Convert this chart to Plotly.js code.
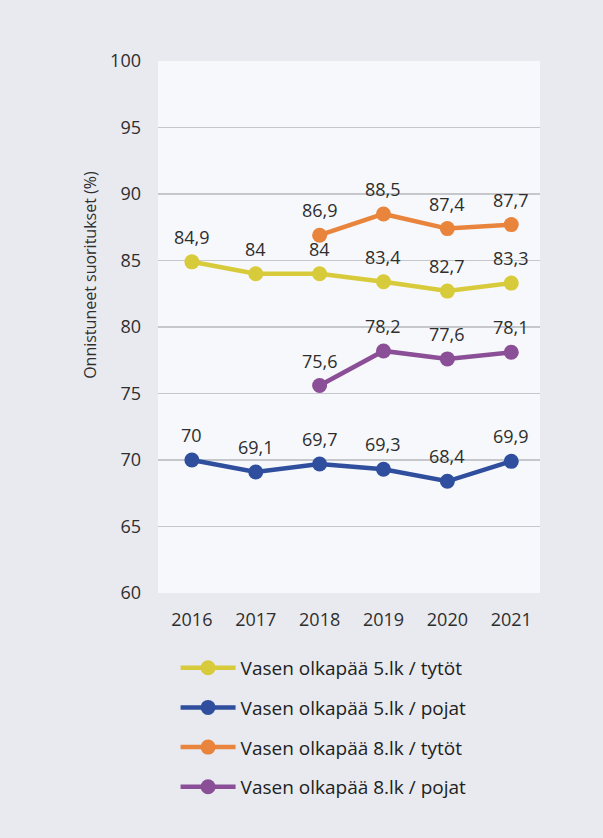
<!DOCTYPE html>
<html>
<head>
<meta charset="utf-8">
<script src="https://cdn.plot.ly/plotly-3.0.1.min.js"></script>
<style>
html,body{margin:0;padding:0;background:#e8eaf0;}
#chart{width:603px;height:838px;}
</style>
</head>
<body>
<div id="chart"></div>
<script>
const years = [2016, 2017, 2018, 2019, 2020, 2021];
const girls5 = [84.9, 84, 84, 83.4, 82.7, 83.3];
const boys5 = [70, 69.1, 69.7, 69.3, 68.4, 69.9];
const girls8 = [null, null, 86.9, 88.5, 87.4, 87.7];
const boys8 = [null, null, 75.6, 78.2, 77.6, 78.1];
const names = [
  "Vasen olkapää 5.lk / tytöt",
  "Vasen olkapää 5.lk / pojat",
  "Vasen olkapää 8.lk / tytöt",
  "Vasen olkapää 8.lk / pojat"
];
const colors = ["#d8cb3b", "#2f4f9e", "#e8843c", "#8a4f96"];
const series = [girls5, boys5, girls8, boys8];

const fontFam = "'Open Sans', sans-serif";
const traces = series.map((vals, i) => ({
  x: years,
  y: vals,
  name: names[i],
  type: "scatter",
  mode: "lines+markers",
  connectgaps: false,
  legendgroup: "g" + i,
  line: {color: colors[i], width: 4.5},
  marker: {color: colors[i], size: 15},
  hoverinfo: "skip"
}));

const annotations = [];
series.forEach((vals, i) => {
  vals.forEach((v, j) => {
    if (v === null) return;
    annotations.push({
      x: years[j], y: v, xref: "x", yref: "y",
      text: String(v).replace(".", ","),
      showarrow: false, yanchor: "middle", yshift: 25,
      font: {family: fontFam, size: 18, color: "#2e2e2e"}
    });
  });
});
annotations.push({
  xref: "paper", yref: "paper", x: -0.178, y: 0.598,
  xanchor: "center", yanchor: "middle",
  text: "Onnistuneet suoritukset (%)", textangle: -90, showarrow: false,
  font: {family: fontFam, size: 16, color: "#2e2e2e"}
});

const layout = {
  width: 603, height: 838,
  paper_bgcolor: "#e8eaf0",
  plot_bgcolor: "#f7f8fb",
  margin: {l: 158, r: 63, t: 61, b: 245},
  showlegend: true,
  legend: {
    x: 0.046, y: -0.105, xanchor: "left", yanchor: "top",
    orientation: "v", traceorder: "grouped", tracegroupgap: 12,
    itemwidth: 55,
    bgcolor: "rgba(0,0,0,0)",
    font: {family: fontFam, size: 19, color: "#222"}
  },
  xaxis: {
    type: "linear",
    range: [2015.47, 2021.45],
    tickvals: years,
    ticktext: years.map(String),
    showgrid: false, zeroline: false, showline: false,
    ticks: "", ticklabelstandoff: 14,
    tickfont: {family: fontFam, size: 18, color: "#2e2e2e"}
  },
  yaxis: {
    range: [60, 100],
    dtick: 5,
    showgrid: true, gridcolor: "#c6c7cb", gridwidth: 1.5,
    zeroline: false, showline: false,
    ticks: "", ticklabelstandoff: 16,
    tickfont: {family: fontFam, size: 18, color: "#2e2e2e"}
  },
  annotations: annotations
};

Plotly.newPlot("chart", traces, layout, {displayModeBar: false, staticPlot: true});
</script>
</body>
</html>
